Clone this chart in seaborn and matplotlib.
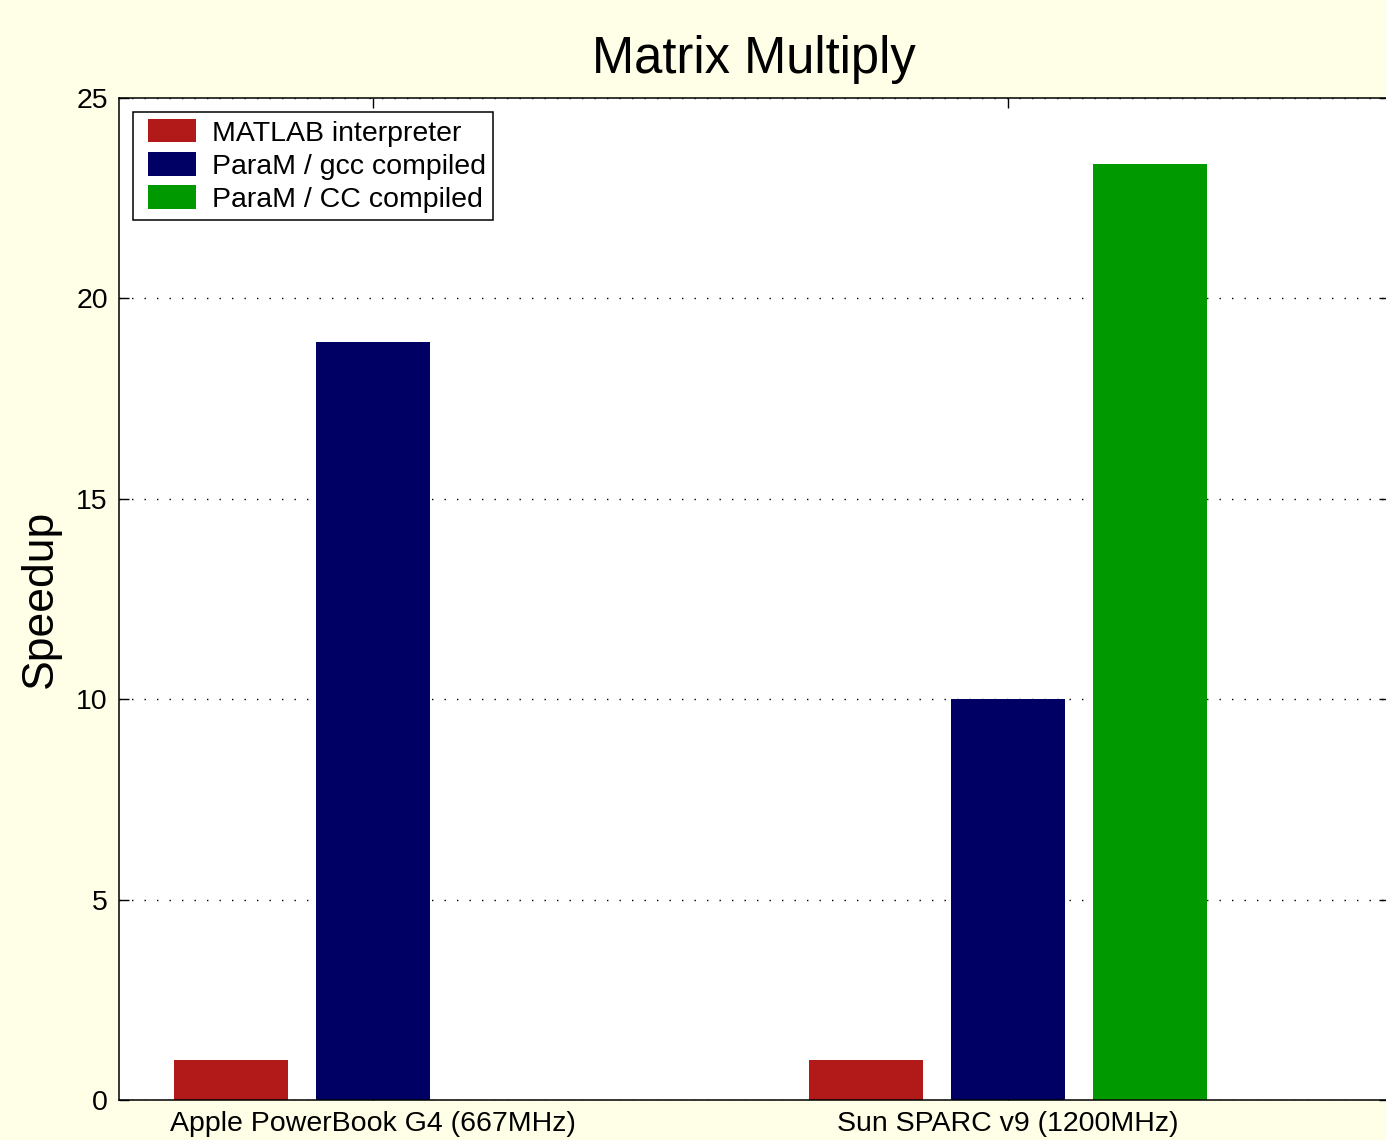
import matplotlib
matplotlib.use("Agg")
import matplotlib.pyplot as plt
import seaborn as sns
import pandas as pd
from matplotlib.patches import Patch, Rectangle
from matplotlib.legend_handler import HandlerPatch

# ---- data ----
machines = ["Apple PowerBook G4 (667MHz)", "Sun SPARC v9 (1200MHz)"]
series = ["MATLAB interpreter", "ParaM / gcc compiled", "ParaM / CC compiled"]
matlab_vals = [1.0, 1.0]
gcc_vals = [18.9, 10.0]
cc_vals = [0.0, 23.35]
colors = ["#B21A1A", "#000064", "#009900"]
yticks = [0, 5, 10, 15, 20, 25]

rows = []
for s, vals in zip(series, [matlab_vals, gcc_vals, cc_vals]):
    for m, v in zip(machines, vals):
        rows.append({"machine": m, "series": s, "speedup": v})
df = pd.DataFrame(rows)

sns.set_style("white")
plt.rcParams["font.family"] = ["Liberation Sans", "DejaVu Sans"]
plt.rcParams["text.color"] = "black"
plt.rcParams["axes.labelcolor"] = "black"
plt.rcParams["xtick.color"] = "black"
plt.rcParams["ytick.color"] = "black"

W, H = 1386, 1140
fig = plt.figure(figsize=(W / 100, H / 100), dpi=100)
fig.patch.set_facecolor("#FFFFE8")
ax = fig.add_axes([119 / W, 40 / H, (1389 - 119) / W, (1100 - 98) / H])
ax.set_facecolor("white")

sns.barplot(data=df, x="machine", y="speedup", hue="series",
            hue_order=series, order=machines, palette=colors,
            width=0.67, gap=0.2, saturation=1, legend=False, ax=ax,
            edgecolor="none", linewidth=0)

ax.set_xlim(-0.4, 1.6)
ax.set_ylim(0, 25)
ax.set_yticks(yticks)
ax.set_axisbelow(True)
ax.yaxis.grid(True, color="black", linestyle=(0, (1, 8)), linewidth=1.0)
ax.xaxis.grid(False)

for sp in ["left", "top", "bottom", "right"]:
    ax.spines[sp].set_visible(True)
    ax.spines[sp].set_color("black")
    ax.spines[sp].set_linewidth(1.1)

ax.tick_params(axis="both", direction="in", length=7, width=1.0, color="black",
               labelcolor="black", labelsize=20.5, top=True, right=True,
               bottom=True, left=True)
ax.tick_params(axis="x", pad=8)
ax.tick_params(axis="y", pad=8)

ax.set_xlabel("")
ax.set_ylabel("Speedup", fontsize=32, labelpad=11)
ax.set_title("Matrix Multiply", fontsize=36.5, pad=18)


def shifted_patch(legend, orig_handle, xdescent, ydescent, width, height, fontsize):
    off = 5.8
    return Rectangle((-xdescent + off, -ydescent), width - off, height)


handles = [Patch(facecolor=c, edgecolor="none") for c in colors]
leg = ax.legend(handles, series, loc="upper left",
                bbox_to_anchor=(14 / 1270, 1 - 14 / 1002), borderaxespad=0,
                fontsize=20.5, frameon=True, fancybox=False, shadow=False,
                handlelength=1.96, handleheight=0.88, handletextpad=0.56,
                labelspacing=0.2, borderpad=0.25,
                handler_map={Patch: HandlerPatch(patch_func=shifted_patch)})
leg.get_frame().set_edgecolor("black")
leg.get_frame().set_linewidth(1.1)
leg.get_frame().set_alpha(1)

fig.savefig("out.png", dpi=100, facecolor=fig.get_facecolor())
